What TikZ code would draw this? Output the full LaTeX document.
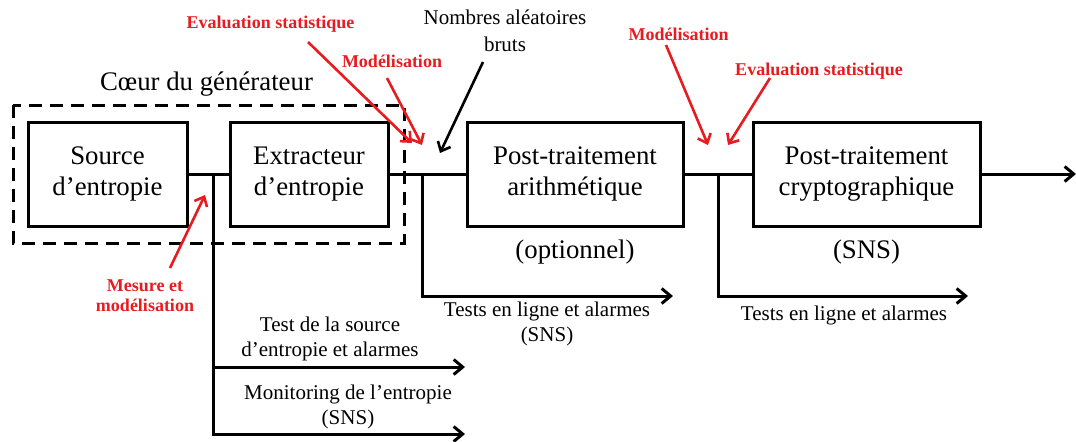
\documentclass[tikz,border=0pt]{standalone}
\usepackage{fontspec}
\setmainfont{Liberation Serif}
\usepackage{tikz}
\usetikzlibrary{arrows.meta,positioning}
\definecolor{alertred}{RGB}{230,28,32}

\begin{document}
\begin{tikzpicture}[x=0.5pt,y=-0.5pt,
    block/.style={draw,line width=1.5pt,minimum height=52pt,align=center,inner sep=0pt,
      font=\fontsize{13.4}{15.5}\selectfont},
    flow/.style={line width=1.5pt},
    outarrow/.style={flow,-{Straight Barb[length=4.5pt,width=7.5pt]}},
    note/.style={align=center,inner sep=0pt,font=\fontsize{10.5}{12.5}\selectfont},
    bignote/.style={inner sep=0pt,anchor=base,font=\fontsize{13.4}{15.5}\selectfont},
    remark/.style={text=alertred,align=center,inner sep=0pt,font=\bfseries\fontsize{9}{10}\selectfont},
    pointer/.style={alertred,line width=1.3pt,-{Straight Barb[length=4pt,width=7pt]}}]
  \useasboundingbox (0,0) rectangle (1076,441);

  % coeur du generateur
  \draw[line width=1.5pt,dash pattern=on 6.5pt off 4pt] (13,105) rectangle (404,243);
  \node[bignote] (coeur) at (206.5,90) {Cœur du générateur};

  % blocs
  \node[block,minimum width=79.5pt] (src) at (107.5,174) {Source\\d’entropie};
  \node[block,minimum width=79pt] (ext) at (309,174) {Extracteur\\d’entropie};
  \node[block,minimum width=108pt] (arith) at (575,174) {Post-traitement\\arithmétique};
  \node[block,minimum width=113.5pt] (crypto) at (866.5,174) {Post-traitement\\cryptographique};
  \node[bignote] (opt) at (575,258) {(optionnel)};
  \node[bignote] (sns) at (866.5,258) {(SNS)};

  \coordinate (end) at (1076,174);
  \draw[flow] (src) -- (ext);
  \draw[flow] (ext) -- (arith);
  \draw[flow] (arith) -- (crypto);
  \draw[outarrow] (crypto) -- (end);

  % tests
  \coordinate (b1) at (213,174);
  \coordinate (b1a) at (213,367);
  \coordinate (t1a) at (465,367);
  \coordinate (t1b) at (465,434);
  \coordinate (b2) at (422,174);
  \coordinate (t2) at (673,296);
  \coordinate (b3) at (718,174);
  \coordinate (t3) at (968,296);
  \draw[outarrow] (b1) |- (t1b);
  \draw[outarrow] (b1a) -- (t1a);
  \draw[outarrow] (b2) |- (t2);
  \draw[outarrow] (b3) |- (t3);

  \node[note] (testsrc) at (330,339) {Test de la source\\d’entropie et alarmes};
  \node[note] (monit) at (348,407) {Monitoring de l’entropie\\(SNS)};
  \node[note] (ligneA) at (547,324) {Tests en ligne et alarmes\\(SNS)};
  \node[note,anchor=base] (ligneB) at (844,320) {Tests en ligne et alarmes};

  % nombres bruts
  \node[note,font=\fontsize{10.5}{13.5}\selectfont] (bruts) at (505,31) {Nombres aléatoires\\bruts};
  \coordinate (bruts tail) at (483,62);
  \coordinate (bruts tip) at (440,153);
  \draw[line width=1.3pt,-{Straight Barb[length=4pt,width=7pt]}] (bruts tail) -- (bruts tip);

  % annotations
  \node[remark,anchor=base] (evalA) at (270.5,28) {Evaluation statistique};
  \node[remark,anchor=base] (modA) at (392,67) {Modélisation};
  \node[remark,anchor=base] (modB) at (678.5,40) {Modélisation};
  \node[remark,anchor=base] (evalB) at (819,75) {Evaluation statistique};
  \node[remark] (mesure) at (145,296) {Mesure et\\modélisation};

  \coordinate (evalA tail) at (308,42);
  \coordinate (evalA tip) at (412,143);
  \coordinate (modA tail) at (387,78);
  \coordinate (modA tip) at (422,145);
  \coordinate (modB tail) at (666,45);
  \coordinate (modB tip) at (708,145);
  \coordinate (evalB tail) at (770,78);
  \coordinate (evalB tip) at (728,145);
  \coordinate (mesure tail) at (170,268);
  \coordinate (mesure tip) at (205,195);
  \foreach \lbl in {evalA,modA,modB,evalB,mesure}
    \draw[pointer] (\lbl\space tail) -- (\lbl\space tip);
\end{tikzpicture}
\end{document}
